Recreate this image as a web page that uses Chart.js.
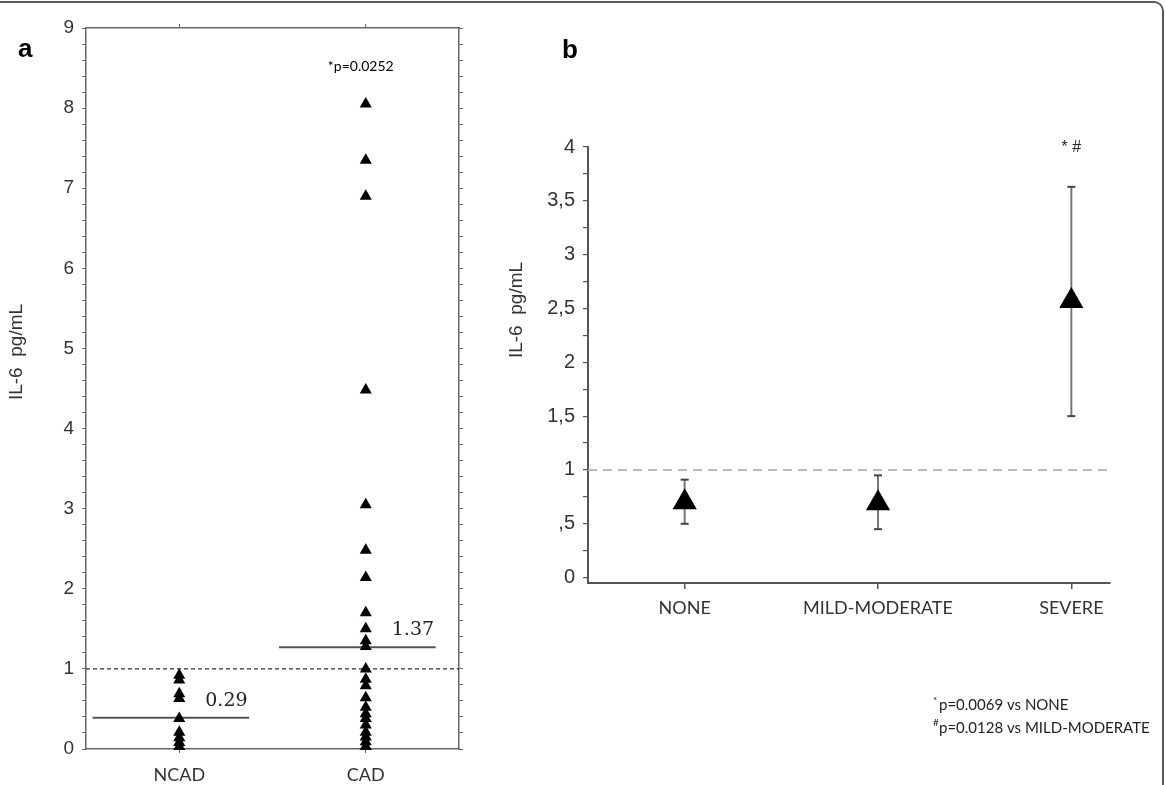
<!DOCTYPE html>
<html>
<head>
<meta charset="utf-8">
<script src="https://cdn.jsdelivr.net/npm/chart.js@4.4.0/dist/chart.umd.min.js"></script>
<style>
  html, body { margin: 0; padding: 0; background: #fff; }
  #wrap { position: relative; width: 1165px; height: 785px; overflow: hidden; }
  #frame { position: absolute; left: -4px; top: 1px; width: 1168px; height: 820px; border: 2px solid #5a5a5a; border-radius: 0 10px 0 0; box-sizing: border-box; }
  #chartA { position: absolute; left: 0; top: 0; }
  #chartB { position: absolute; left: 480px; top: 0; }
</style>
</head>
<body>
<div id="wrap">
  <div id="frame"></div>
  <canvas id="chartA" width="480" height="785" style="width:480px;height:785px"></canvas>
  <canvas id="chartB" width="685" height="785" style="width:685px;height:785px"></canvas>
</div>
<script>
// panel a : individual values
var groupsA = ['NCAD', 'CAD'];
var ncadValues = [0.92, 0.86, 0.69, 0.63, 0.38, 0.21, 0.14, 0.08, 0.03];
var cadValues = [8.05, 7.35, 6.9, 4.48, 3.05, 2.48, 2.14, 1.7, 1.5, 1.35, 1.28, 1.0,
                 0.87, 0.79, 0.64, 0.52, 0.44, 0.38, 0.3, 0.21, 0.15, 0.09, 0.03];
var medianA = [0.39, 1.27];
var medianLabelsA = ['0.29', '1.37'];
var yMaxA = 9;

// panel b : mean and error bars
var groupsB = ['NONE', 'MILD-MODERATE', 'SEVERE'];
var meanB = [0.70, 0.69, 2.57];
var lowB = [0.50, 0.45, 1.50];
var highB = [0.91, 0.95, 3.63];
var yMaxB = 4;

var refLine = 1;

var tickFont = { family: '"Liberation Sans", Arial, sans-serif', size: 19 };
var catFont = { family: 'Lato, sans-serif', size: 18 };
var axisColor = '#555';
var textColor = '#333';

function stepTicks(max, step) {
  var t = [];
  for (var i = 0; i <= Math.round(max / step); i++) t.push({ value: +(i * step).toFixed(4) });
  return t;
}

function textPlugin(drawFn) {
  return { id: 'texts', afterDraw: function (chart) { var c = chart.ctx; c.save(); drawFn(chart, c); c.restore(); } };
}

// ---------- panel a ----------
var catXA = function (i) { return 2 * i + 1; };

var datasetsA = [
  { data: ncadValues.map(function (v) { return { x: catXA(0), y: v }; }) },
  { data: cadValues.map(function (v) { return { x: catXA(1), y: v }; }) }
].map(function (d) {
  d.pointStyle = 'triangle'; d.pointRadius = 7; d.backgroundColor = '#000';
  d.borderColor = '#000'; d.borderWidth = 0; d.order = 0; d.clip = false;
  return d;
});

medianA.forEach(function (m, i) {
  datasetsA.push({
    data: [{ x: catXA(i) - 0.93, y: m }, { x: catXA(i) + 0.75, y: m }],
    showLine: true, pointRadius: 0, borderColor: '#555', borderWidth: 2, order: 1
  });
});

datasetsA.push({
  data: [{ x: 0, y: refLine }, { x: 4, y: refLine }],
  showLine: true, pointRadius: 0, borderColor: '#333', borderWidth: 1.4, borderDash: [4, 3], order: 2
});

function boxAxis(extra) {
  var base = {
    type: 'linear',
    grid: { drawOnChartArea: false, tickLength: 4, color: '#666', lineWidth: 1 },
    border: { color: '#666', width: 1.5 }
  };
  return Object.assign(base, extra);
}

new Chart(document.getElementById('chartA'), {
  type: 'scatter',
  data: { datasets: datasetsA },
  options: {
    responsive: false,
    animation: false,
    plugins: { legend: { display: false }, tooltip: { enabled: false } },
    layout: { padding: 0 },
    scales: {
      x: boxAxis({
        position: 'bottom', min: 0, max: 4,
        afterFit: function (s) { s.height = 36; },
        afterBuildTicks: function (s) { s.ticks = groupsA.map(function (g, i) { return { value: catXA(i) }; }); },
        ticks: { autoSkip: false, maxRotation: 0, font: catFont, color: textColor, padding: 11,
                 callback: function (v) { return groupsA[(v - 1) / 2]; } }
      }),
      xTop: boxAxis({
        position: 'top', min: 0, max: 4,
        afterFit: function (s) { s.height = 28; },
        afterBuildTicks: function (s) { s.ticks = groupsA.map(function (g, i) { return { value: catXA(i) }; }); },
        ticks: { autoSkip: false, callback: function () { return ''; } }
      }),
      y: boxAxis({
        position: 'left', min: 0, max: yMaxA,
        afterFit: function (s) { s.width = 86; },
        afterBuildTicks: function (s) { s.ticks = stepTicks(yMaxA, 0.2); },
        ticks: { autoSkip: false, font: tickFont, color: textColor, padding: 8,
                 callback: function (v) { return Math.abs(v - Math.round(v)) < 1e-6 ? String(Math.round(v)) : ''; } }
      }),
      yRight: boxAxis({
        position: 'right', min: 0, max: yMaxA,
        afterFit: function (s) { s.width = 21; },
        afterBuildTicks: function (s) { s.ticks = stepTicks(yMaxA, 0.2); },
        ticks: { autoSkip: false, callback: function () { return ''; } }
      })
    }
  },
  plugins: [textPlugin(function (chart, c) {
    var xs = chart.scales.x, ys = chart.scales.y;
    c.fillStyle = '#000';
    c.font = 'bold 26px "Liberation Sans", Arial, sans-serif';
    c.textAlign = 'left'; c.textBaseline = 'alphabetic';
    c.fillText('a', 18, 57);

    c.font = '14px Lato, sans-serif';
    c.textAlign = 'center';
    c.fillText('*p=0.0252', xs.getPixelForValue(catXA(1)) - 5, 71);

    c.font = '19px "DejaVu Serif", serif';
    c.fillStyle = '#222';
    c.textAlign = 'left';
    medianA.forEach(function (m, i) {
      c.fillText(medianLabelsA[i], xs.getPixelForValue(catXA(i)) + 26, ys.getPixelForValue(m) - 12);
    });

    c.save();
    c.translate(17, 352);
    c.rotate(-Math.PI / 2);
    c.font = '19px "Liberation Sans", Arial, sans-serif';
    c.fillStyle = textColor;
    c.textAlign = 'center'; c.textBaseline = 'middle';
    c.fillText('IL-6  pg/mL', 0, 0);
    c.restore();
  })]
});

// ---------- panel b ----------
var datasetsB = [{
  data: meanB.map(function (v, i) { return { x: i + 1, y: v }; }),
  pointStyle: 'triangle', pointRadius: 14, backgroundColor: '#000', borderColor: '#000',
  borderWidth: 0, order: 0, clip: false
}];

meanB.forEach(function (v, i) {
  datasetsB.push({
    data: [{ x: i + 1, y: lowB[i] }, { x: i + 1, y: highB[i] }],
    showLine: true, borderColor: '#777', borderWidth: 2,
    pointStyle: 'line', pointRadius: 4, pointBorderColor: '#444', pointBorderWidth: 2, order: 1
  });
});

datasetsB.push({
  data: [{ x: 0.5, y: refLine }, { x: 3.2, y: refLine }],
  showLine: true, pointRadius: 0, borderColor: '#bbb', borderWidth: 2, borderDash: [9, 6], order: 2
});

new Chart(document.getElementById('chartB'), {
  type: 'scatter',
  data: { datasets: datasetsB },
  options: {
    responsive: false,
    animation: false,
    plugins: { legend: { display: false }, tooltip: { enabled: false } },
    layout: { padding: { top: 147, right: 55, left: 0, bottom: 0 } },
    scales: {
      x: {
        type: 'linear', position: 'bottom', min: 0.5, max: 3.2,
        afterFit: function (s) { s.height = 202; },
        afterBuildTicks: function (s) { s.ticks = groupsB.map(function (g, i) { return { value: i + 1 }; }); },
        ticks: { autoSkip: false, maxRotation: 0, font: catFont, color: textColor, padding: 8,
                 callback: function (v) { return groupsB[v - 1]; } },
        grid: { drawOnChartArea: false, tickLength: 6, color: axisColor, lineWidth: 1.5 },
        border: { color: axisColor, width: 2 }
      },
      y: {
        type: 'linear', position: 'left', min: -0.05, max: yMaxB,
        afterFit: function (s) { s.width = 108; },
        afterBuildTicks: function (s) { s.ticks = stepTicks(yMaxB, 0.25); },
        ticks: { autoSkip: false, font: { family: tickFont.family, size: 20 }, color: textColor, padding: 8,
                 callback: function (v) {
                   if (Math.abs(v * 2 - Math.round(v * 2)) > 1e-6) return '';
                   var s = String(v).replace('.', ',');
                   return s.indexOf('0,') === 0 ? s.slice(1) : s;
                 } },
        grid: { drawOnChartArea: false, tickLength: 5, color: axisColor, lineWidth: 1.2 },
        border: { color: axisColor, width: 2 }
      }
    }
  },
  plugins: [textPlugin(function (chart, c) {
    var xs = chart.scales.x;
    c.fillStyle = '#000';
    c.font = 'bold 26px "Liberation Sans", Arial, sans-serif';
    c.textAlign = 'left'; c.textBaseline = 'alphabetic';
    c.fillText('b', 82, 58);

    c.fillStyle = '#222';
    c.font = '16px "Liberation Sans", Arial, sans-serif';
    c.textAlign = 'center';
    c.fillText('* #', xs.getPixelForValue(3), 152);

    c.save();
    c.translate(37, 310);
    c.rotate(-Math.PI / 2);
    c.font = '19px "Liberation Sans", Arial, sans-serif';
    c.fillStyle = textColor;
    c.textAlign = 'center'; c.textBaseline = 'middle';
    c.fillText('IL-6  pg/mL', 0, 0);
    c.restore();

    c.textAlign = 'left';
    c.fillStyle = '#222';
    c.font = '10px Lato, sans-serif';
    c.fillText('*', 453, 704);
    c.fillText('#', 453, 726);
    c.font = '15px Lato, sans-serif';
    c.fillText('p=0.0069 vs NONE', 459, 710);
    c.fillText('p=0.0128 vs MILD-MODERATE', 459, 733);
  })]
});
</script>
</body>
</html>
